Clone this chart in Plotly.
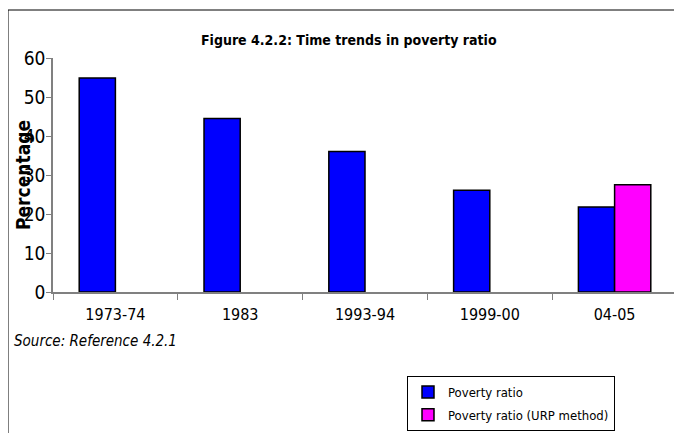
import plotly.graph_objects as go

# data
periods = ["1973-74", "1983", "1993-94", "1999-00", "04-05"]
poverty_ratio = [54.9, 44.5, 36.0, 26.1, 21.8]
poverty_ratio_urp = [None, None, None, None, 27.5]
y_ticks = [0, 10, 20, 30, 40, 50, 60]

# page body adds an 8px margin, so the figure is laid out in shifted pixels.
# figure is taller than the window so the legend never pushes the margins
OFF = 8
W, H = 674, 460
L, R, T, B = 45, 5, 50, 176
FONT = "DejaVu Sans Condensed, Liberation Sans, Arial"

pw = W - L - R
ph = H - T - B


def px_x(x):
    return (x - OFF - L) / pw


def px_y(y):
    return (H - B - (y - OFF)) / ph


fig = go.Figure()
fig.add_trace(go.Bar(
    x=periods, y=poverty_ratio, name="Poverty ratio",
    marker=dict(color="#0000FF", line=dict(color="black", width=1.5)),
    legendgroup="a",
))
fig.add_trace(go.Bar(
    x=periods, y=poverty_ratio_urp, name="Poverty ratio (URP method)",
    marker=dict(color="#FF00FF", line=dict(color="black", width=1.5)),
    legendgroup="b",
))

fig.update_layout(
    width=W, height=H,
    margin=dict(l=L, r=R, t=T, b=B),
    paper_bgcolor="white", plot_bgcolor="white",
    font=dict(family=FONT, size=14, color="black"),
    barmode="group", bargap=0.42, bargroupgap=0,
    showlegend=True,
    legend=dict(
        x=px_x(407), y=px_y(376), xanchor="left", yanchor="top",
        bordercolor="black", borderwidth=1, bgcolor="white",
        font=dict(family=FONT, size=13), tracegroupgap=3,
        itemwidth=30,
    ),
    xaxis=dict(
        showline=True, linecolor="#808080", linewidth=1.5,
        ticks="outside", tickson="boundaries", ticklen=6, tickcolor="#808080",
        showgrid=False, tickfont=dict(size=16), ticklabelstandoff=7,
    ),
    yaxis=dict(
        range=[0, 60], tickvals=y_ticks, showline=True, linecolor="#808080",
        linewidth=1.5, ticks="outside", ticklen=5, tickcolor="#808080",
        showgrid=False, zeroline=False, tickfont=dict(size=19),
        ticklabelstandoff=-3,
    ),
)

fig.add_annotation(
    text="<b>Figure 4.2.2: Time trends in poverty ratio</b>",
    xref="paper", yref="paper", x=px_x(349), y=px_y(40), yanchor="middle",
    showarrow=False, font=dict(family=FONT, size=14),
)
fig.add_annotation(
    text="<b>Percentage</b>", textangle=-90,
    xref="paper", yref="paper", x=px_x(23), y=px_y(175),
    xanchor="center", yanchor="middle",
    showarrow=False, font=dict(family=FONT, size=19),
)
fig.add_annotation(
    text="<i>Source: Reference 4.2.1</i>",
    xref="paper", yref="paper", x=px_x(12), y=px_y(341),
    xanchor="left", yanchor="middle", showarrow=False,
    font=dict(family=FONT, size=15),
)

# outer chart frame (left and top edges visible)
fig.add_shape(type="line", xref="paper", yref="paper",
              x0=px_x(8), x1=px_x(8), y0=px_y(10), y1=px_y(445),
              line=dict(color="black", width=1))
fig.add_shape(type="line", xref="paper", yref="paper",
              x0=px_x(8), x1=px_x(682), y0=px_y(10), y1=px_y(10),
              line=dict(color="black", width=1))

fig.write_html("out.html")
